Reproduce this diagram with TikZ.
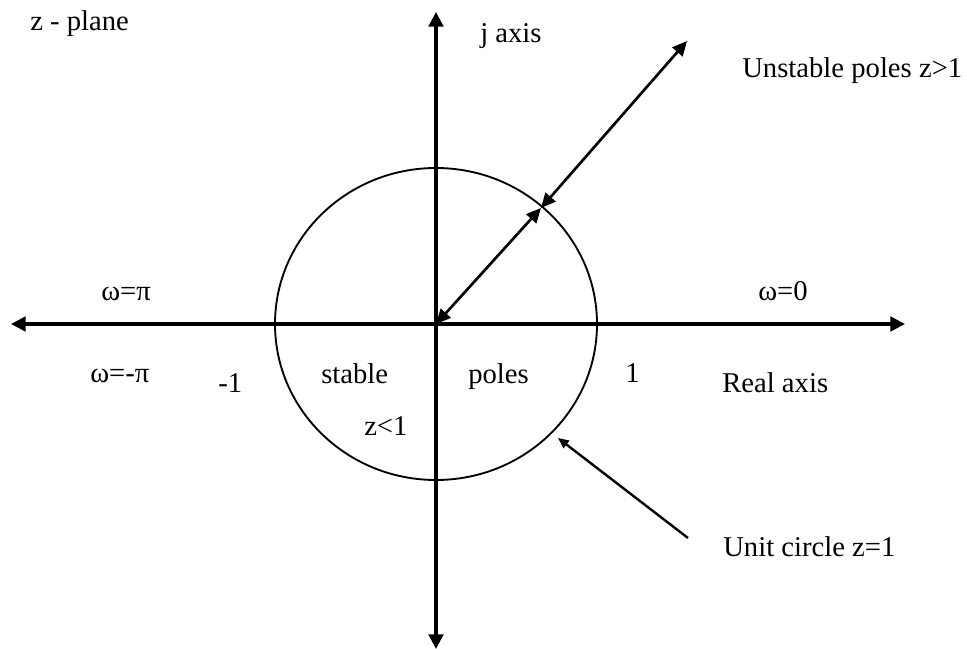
\documentclass[tikz,border=0pt]{standalone}
\usepackage{fontspec}
\setmainfont{Liberation Serif}
\usetikzlibrary{arrows.meta}
\begin{document}
\begin{tikzpicture}[x=0.75pt,y=-0.75pt,
  axis/.style={line width=2.3pt,-{Triangle[length=11pt,width=11pt]}},
  dbl/.style={line width=2pt,{Triangle[length=11pt,width=10pt]}-{Triangle[length=11pt,width=10pt]}},
  single/.style={line width=1.8pt,-{Triangle[length=8pt,width=7pt]}},
  lbl/.style={inner sep=0pt,anchor=base west,font=\fontsize{21.5}{24}\selectfont}]
\useasboundingbox (0,0) rectangle (967,649);
% coordinates
\coordinate (O) at (436,324);
\coordinate (L) at (11,324);
\coordinate (R) at (905,324);
\coordinate (T) at (436,12);
\coordinate (B) at (436,649);
\coordinate (P) at (541,208);
\coordinate (Q) at (687,41);
\coordinate (C) at (558,438);
\coordinate (Ct) at (688,538);
% unit circle
\draw[line width=1.4pt] (O) ellipse [x radius=161, y radius=156];
% axes
\draw[axis] (O) -- (L);
\draw[axis] (O) -- (R);
\draw[axis] (O) -- (T);
\draw[axis] (O) -- (B);
% arrows
\draw[dbl] (O) -- (P);
\draw[dbl] (P) -- (Q);
\draw[single] (Ct) -- (C);
% labels
\node[lbl] (zp) at (30,31) {z - plane};
\node[lbl] (ja) at (480,43) {j axis};
\node[lbl] (up) at (742,78) {Unstable poles z>1};
\node[lbl] (wpi) at (101,300) {ω=π};
\node[lbl] (w0) at (758,300) {ω=0};
\node[lbl] (wmpi) at (90,382) {ω=-π};
\node[lbl] (m1) at (218,392) {-1};
\node[lbl] (st) at (321,383) {stable};
\node[lbl] (po) at (468,383) {poles};
\node[lbl] (one) at (625,382) {1};
\node[lbl] (ra) at (722,392) {Real axis};
\node[lbl] (zl) at (364,435) {z<1};
\node[lbl] (uc) at (723,556) {Unit circle z=1};
\end{tikzpicture}
\end{document}
